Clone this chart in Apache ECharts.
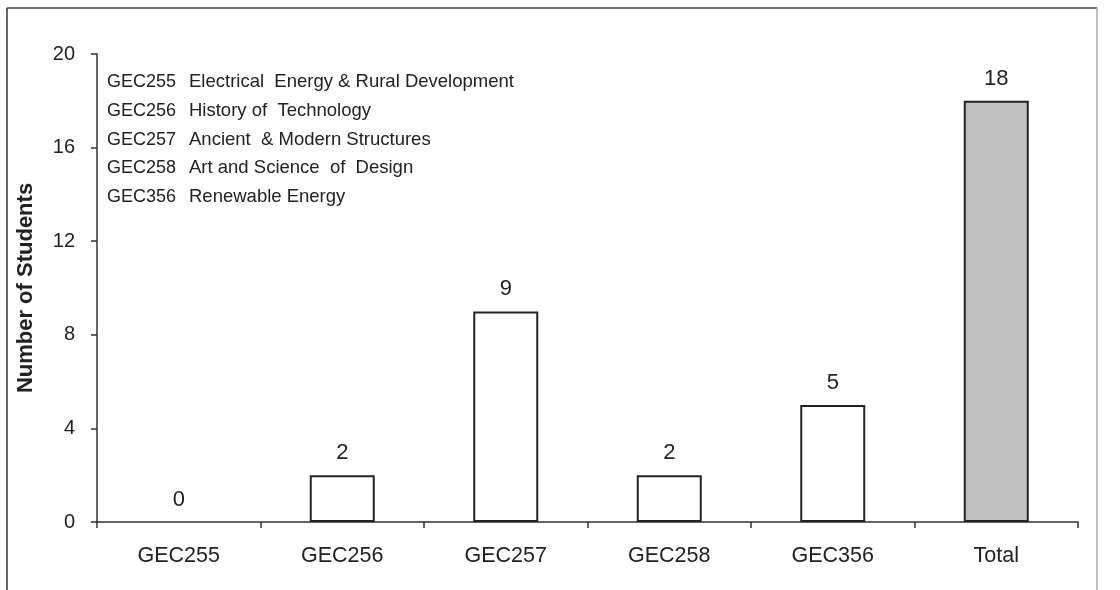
<!DOCTYPE html>
<html>
<head>
<meta charset="utf-8">
<script src="https://cdn.jsdelivr.net/npm/echarts@6/dist/echarts.min.js"></script>
<style>
  html, body { margin: 0; padding: 0; background: #fff; }
  #chart { width: 1120px; height: 590px; }
</style>
</head>
<body>
<div id="chart"></div>
<script>
// Course enrolment counts
var categories = ['GEC255', 'GEC256', 'GEC257', 'GEC258', 'GEC356', 'Total'];
var students = [0, 2, 9, 2, 5, 18];
var yTicks = [0, 4, 8, 12, 16, 20];

// Course key shown inside the plot
var courseCodes = ['GEC255', 'GEC256', 'GEC257', 'GEC258', 'GEC356'];
var courseNames = [
  'Electrical  Energy & Rural Development',
  'History of  Technology',
  'Ancient  & Modern Structures',
  'Art and Science  of  Design',
  'Renewable Energy'
];

var FONT = '"Liberation Sans", Arial, sans-serif';
var INK = '#222';

var chart = echarts.init(document.getElementById('chart'), null, { renderer: 'canvas' });

// key text lines, two columns (code / description), vertically centred per line
var keyItems = [];
courseCodes.forEach(function (code, i) {
  var y = 82 + i * 28.8;
  keyItems.push({
    type: 'text', x: 107, y: y,
    style: { text: code, font: '18px ' + FONT, fill: INK, verticalAlign: 'middle', align: 'left' }
  });
  keyItems.push({
    type: 'text', x: 189, y: y,
    style: { text: courseNames[i], font: '18.5px ' + FONT, fill: INK, verticalAlign: 'middle', align: 'left' }
  });
});

// frame around the chart
var frame = [
  { type: 'line', shape: { x1: 7, y1: 8, x2: 1097, y2: 8 }, style: { stroke: '#444', lineWidth: 1.5 } },
  { type: 'line', shape: { x1: 7, y1: 8, x2: 7, y2: 590 }, style: { stroke: '#333', lineWidth: 1.5 } },
  { type: 'line', shape: { x1: 1097, y1: 8, x2: 1097, y2: 590 }, style: { stroke: '#aaa', lineWidth: 1.5 } }
];

var option = {
  backgroundColor: '#fff',
  animation: false,
  grid: { left: 97, right: 42, top: 54, bottom: 68, containLabel: false, outerBoundsMode: 'none' },
  xAxis: {
    type: 'category',
    data: categories,
    boundaryGap: true,
    axisLine: { lineStyle: { color: '#333', width: 1.5 } },
    axisTick: { show: true, alignWithLabel: false, length: 6, inside: false, lineStyle: { color: '#333', width: 1.5 } },
    axisLabel: { color: INK, fontSize: 21.5, fontFamily: FONT, margin: 23 },
    splitLine: { show: false }
  },
  yAxis: {
    type: 'value',
    min: yTicks[0],
    max: yTicks[yTicks.length - 1],
    interval: yTicks[1] - yTicks[0],
    name: 'Number of Students',
    nameLocation: 'middle',
    nameGap: 60,
    nameTextStyle: { color: INK, fontSize: 22, fontWeight: 'bold', fontFamily: FONT },
    axisLine: { show: true, lineStyle: { color: '#333', width: 1.5 } },
    axisTick: { show: true, length: 6, lineStyle: { color: '#333', width: 1.5 } },
    axisLabel: { color: INK, fontSize: 20, fontFamily: FONT, margin: 22 },
    splitLine: { show: false }
  },
  series: [{
    type: 'bar',
    data: students.map(function (v, i) {
      return {
        value: v,
        itemStyle: {
          color: categories[i] === 'Total' ? '#c0c0c0' : '#ffffff',
          borderWidth: v === 0 ? 0 : 2
        }
      };
    }),
    barWidth: 65,
    itemStyle: { borderColor: '#222', borderWidth: 2 },
    label: {
      show: true, position: 'top', distance: 11,
      color: INK, fontSize: 22, fontFamily: FONT
    }
  }],
  graphic: frame.concat(keyItems)
};

chart.setOption(option);
</script>
</body>
</html>
